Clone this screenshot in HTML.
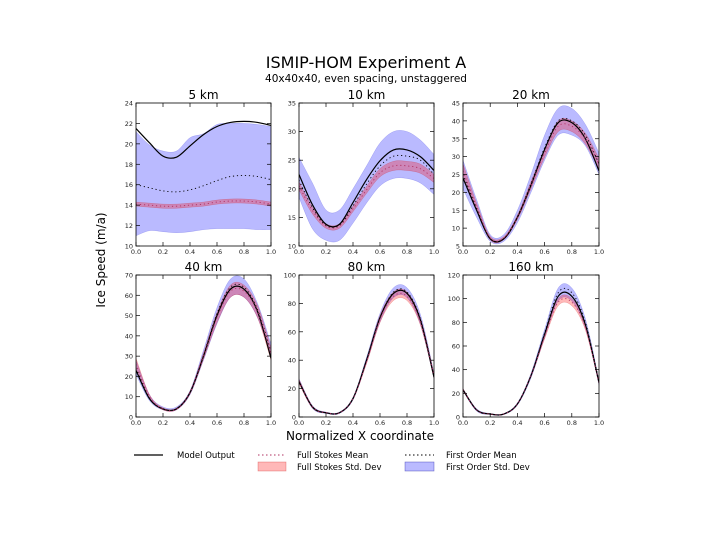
<!DOCTYPE html>
<html><head><meta charset="utf-8"><style>
body{margin:0;background:#fff;}
svg{display:block;font-family:"DejaVu Sans","Liberation Sans",sans-serif;}
</style></head><body>
<svg id="fig" width="727" height="540" viewBox="0 0 727 540">
<text x="366" y="68" text-anchor="middle" font-size="16">ISMIP-HOM Experiment A</text>
<text x="366" y="82" text-anchor="middle" font-size="10.5">40x40x40, even spacing, unstaggered</text>
<text transform="translate(105,260) rotate(-90)" text-anchor="middle" font-size="12">Ice Speed (m/a)</text>
<text x="360" y="440" text-anchor="middle" font-size="12">Normalized X coordinate</text>
<g id="panels"></g>
<g>
 <g>
  <line x1="134" y1="455" x2="163" y2="455" stroke="#000" stroke-width="1.2"/>
  <text x="177" y="458" font-size="8.5">Model Output</text></g>
 <g>
  <line x1="258" y1="455" x2="286" y2="455" stroke="#b03060" stroke-width="1" stroke-dasharray="1.5,2.5"/>
  <text x="297" y="458" font-size="8.5">Full Stokes Mean</text></g>
 <g>
  <rect x="258" y="462" width="28" height="9" fill="rgba(255,0,0,0.28)" stroke="rgba(200,0,0,0.4)" stroke-width="0.6"/>
  <text x="297" y="470" font-size="8.5">Full Stokes Std. Dev</text></g>
 <g>
  <line x1="405" y1="455" x2="434" y2="455" stroke="#000" stroke-width="1" stroke-dasharray="1.5,2.5"/>
  <text x="446" y="458" font-size="8.5">First Order Mean</text></g>
 <g>
  <rect x="405" y="462" width="29" height="9" fill="rgba(0,0,255,0.27)" stroke="rgba(0,0,150,0.5)" stroke-width="0.6"/>
  <text x="446" y="470" font-size="8.5">First Order Std. Dev</text></g>
</g>
</svg>
<script>
// x sample positions (normalized x coordinate)
const xs = [0,0.1,0.2,0.3,0.4,0.5,0.6,0.7,0.8,0.9,1.0];
const panelTitles = ["5 km","10 km","20 km","40 km","80 km","160 km"];
const yMins = [10,10,5,0,0,0];
const yMaxs = [24,35,45,70,100,120];
const yTickSteps = [2,5,5,10,20,20];
const xTickLabels = ["0.0","0.2","0.4","0.6","0.8","1.0"];
const modelOutput = [
 [21.5,20.1,18.8,18.7,19.8,20.9,21.7,22.1,22.2,22.1,21.8],
 [22.5,17.2,13.8,13.8,17.6,21.6,24.9,26.8,26.8,25.6,23.2],
 [24,15,7,7,13,22,32,39.5,39.5,35,26],
 [23,9,4,4,12,30,50,63,63,52,29],
 [25,7,3,3,13,40,70,87,87,68,28],
 [23,6,2.5,2.5,11,35,70,102,102,78,29]];
const fsMean = [
 [14.1,14.0,13.9,13.9,14.0,14.1,14.3,14.4,14.4,14.3,14.1],
 [20.5,16.2,13.5,13.5,16.5,19.8,22.8,24.0,24.0,23.5,21.8],
 [26,16,7.2,7.2,13,22,31,38.5,38.5,35,28],
 [26,10,4,4,12,30,49,62,62,52,31],
 [25,7,3,3,13,39,69,85,85,67,29],
 [23,6,2.5,2.5,11,35,68,97,97,76,29]];
const fsStd = [
 [0.2,0.2,0.2,0.2,0.2,0.2,0.2,0.2,0.2,0.2,0.2],
 [0.7,0.6,0.4,0.4,0.5,0.6,0.7,0.8,0.8,0.8,0.7],
 [2,1,0.5,0.4,0.6,1,1.2,1.5,1.5,1.5,1.5],
 [3,1,0.5,0.4,0.7,1.5,2.5,3,3,3,3],
 [1.5,0.7,0.3,0.3,0.6,1.5,2.5,3,3,2.5,1.5],
 [1,0.5,0.3,0.3,0.5,1,2,3,3,2.5,1]];
const foMean = [
 [16.0,15.7,15.4,15.3,15.5,15.9,16.4,16.8,16.9,16.8,16.5],
 [21.5,16.7,13.6,13.6,17.0,20.8,24.0,25.7,25.7,25.0,22.5],
 [25,15.5,7.1,7.1,13.2,22.5,32.5,40,40,36,28],
 [24,9.5,4,4,12,30.5,51,64,64,53,32],
 [25,7,3,3,13,40,70,88,88,69,29],
 [23,6,2.5,2.5,11,35,71,105,105,80,30]];
const foUpper = [
 [21.2,19.9,19.3,19.3,20.6,21.0,21.9,22.0,22.0,21.9,21.7],
 [25.5,21,16.3,16.3,20,24,28,30,30,28.5,26],
 [29,18,8.2,8.2,15,25,36,43.5,43.5,39,31],
 [28,11,5,5,13,33,54,68,68,56,36],
 [27,8,3.5,3.5,14,42,73,91,91,72,31],
 [24,7,3,3,12,37,74,109,109,83,31]];
const foLower = [
 [11.0,11.5,11.4,11.3,11.4,11.6,11.7,11.7,11.7,11.6,11.6],
 [18.5,13,11,11,14,17.5,20.5,21.8,21.8,21,19],
 [21,13,6.3,6.3,11.5,20,29,36,36,33,25],
 [21,8,3.5,3.5,11,28,46,59,59,49,30],
 [24,6,2.5,2.5,12,38,67,84,84,65,27],
 [22,5,2,2,10,33,67,98,98,75,27]];

const boxes = [[136,103,271,246],[299,103,434,246],[463,103,599,246],
               [136,275,271,417],[299,275,434,417],[463,275,599,417]];
const NS = "http://www.w3.org/2000/svg";
const root = document.getElementById("panels");
function mk(tag, attrs, parent){const e=document.createElementNS(NS,tag);for(const k in attrs)e.setAttribute(k,attrs[k]);parent.appendChild(e);return e;}
function smooth(pts){
 let d="M"+pts[0][0].toFixed(2)+","+pts[0][1].toFixed(2);
 for(let i=0;i<pts.length-1;i++){
  const p0=pts[Math.max(i-1,0)],p1=pts[i],p2=pts[i+1],p3=pts[Math.min(i+2,pts.length-1)];
  const c1=[p1[0]+(p2[0]-p0[0])/6,p1[1]+(p2[1]-p0[1])/6];
  const c2=[p2[0]-(p3[0]-p1[0])/6,p2[1]-(p3[1]-p1[1])/6];
  d+=" C"+c1.map(v=>v.toFixed(2))+" "+c2.map(v=>v.toFixed(2))+" "+p2.map(v=>v.toFixed(2));
 }
 return d;
}
function band(up,lo,sx,sy){
 const u=xs.map((x,i)=>[sx(x),sy(up[i])]);
 const l=xs.map((x,i)=>[sx(x),sy(lo[i])]).reverse();
 let d=smooth(u); d+=" L"+smooth(l).slice(1); return d+" Z";
}
for(let p=0;p<6;p++){
 const [x0,y0,x1,y1]=boxes[p];
 const sx=v=>x0+v*(x1-x0);
 const sy=v=>y1-(v-yMins[p])/(yMaxs[p]-yMins[p])*(y1-y0);
 const g=mk("g",{},root);
 
 
 const cid="clip"+p;
 const cp=mk("clipPath",{id:cid},g); mk("rect",{x:x0,y:y0,width:x1-x0,height:y1-y0},cp);
 const cg=mk("g",{"clip-path":"url(#"+cid+")"},g);
 const fo=mk("path",{d:band(foUpper[p],foLower[p],sx,sy),fill:"rgba(0,0,255,0.27)",stroke:"rgba(0,0,200,0.25)","stroke-width":"0.5"},cg);
 
 
 const up=fsMean[p].map((m,i)=>m+fsStd[p][i]), lo=fsMean[p].map((m,i)=>m-fsStd[p][i]);
 const fs=mk("path",{d:band(up,lo,sx,sy),fill:"rgba(255,0,0,0.28)",stroke:"rgba(200,0,0,0.3)","stroke-width":"0.5"},cg);
 
 
 const m=mk("path",{d:smooth(xs.map((x,i)=>[sx(x),sy(modelOutput[p][i])])),fill:"none",stroke:"#000","stroke-width":"1.2"},cg);
 
 
 const fom=mk("path",{d:smooth(xs.map((x,i)=>[sx(x),sy(foMean[p][i])])),fill:"none",stroke:"#000","stroke-width":"0.9","stroke-dasharray":"1.2,2.8"},cg);
 
 
 const fsm=mk("path",{d:smooth(xs.map((x,i)=>[sx(x),sy(fsMean[p][i])])),fill:"none",stroke:"#b03060","stroke-width":"0.9","stroke-dasharray":"1.2,2.8"},cg);
 
 
 const fr=mk("rect",{x:x0,y:y0,width:x1-x0,height:y1-y0,fill:"none",stroke:"#000","stroke-width":"0.8"},g);
 
 
 const t=mk("text",{x:(x0+x1)/2,y:y0-4,"text-anchor":"middle","font-size":"12"},g);
 t.textContent=panelTitles[p];
 
 
 xTickLabels.forEach(lab=>{
  const X=sx(parseFloat(lab));
  mk("line",{x1:X,y1:y1,x2:X,y2:y1-4,stroke:"#000","stroke-width":"0.7"},g);
  mk("line",{x1:X,y1:y0,x2:X,y2:y0+4,stroke:"#000","stroke-width":"0.7"},g);
  const tx=mk("text",{x:X,y:y1+8,"text-anchor":"middle","font-size":"6.5",fill:"#222"},g);
  tx.textContent=lab;
  
  
 });
 for(let v=yMins[p];v<=yMaxs[p]+1e-9;v+=yTickSteps[p]){
  const Y=sy(v);
  mk("line",{x1:x0,y1:Y,x2:x0+4,y2:Y,stroke:"#000","stroke-width":"0.7"},g);
  mk("line",{x1:x1,y1:Y,x2:x1-4,y2:Y,stroke:"#000","stroke-width":"0.7"},g);
  const ty=mk("text",{x:x0-3,y:Y+2.5,"text-anchor":"end","font-size":"6.5",fill:"#222"},g);
  ty.textContent=String(v);
  
  
 }
}
</script>
</body></html>
